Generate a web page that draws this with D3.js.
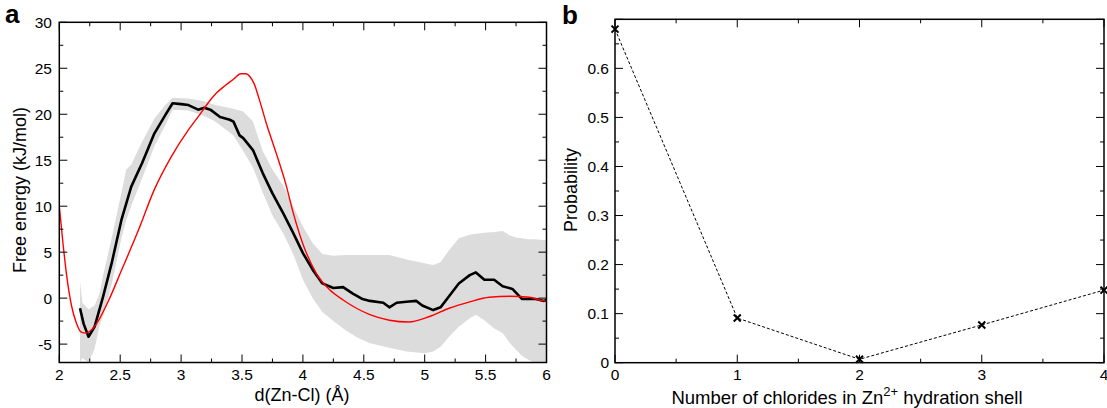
<!DOCTYPE html>
<html>
<head>
<meta charset="utf-8">
<script src="https://cdn.jsdelivr.net/npm/d3@7"></script>
<style>
  body { margin: 0; background: #fff; }
  svg { display: block; font-family: "Liberation Sans", Arial, sans-serif; }
</style>
</head>
<body>
<div id="chart"></div>
<script>
// ---- panel a: free energy profile ----
var redX = [2.0, 2.03, 2.06, 2.10, 2.14, 2.18, 2.22, 2.26, 2.30, 2.40, 2.51, 2.65, 2.78, 2.92, 3.06, 3.15, 3.22, 3.29, 3.36, 3.43, 3.49, 3.53, 3.57, 3.60, 3.64, 3.70, 3.78, 3.86, 3.92, 4.0, 4.11, 4.22, 4.33, 4.44, 4.55, 4.71, 4.87, 5.04, 5.20, 5.37, 5.53, 5.70, 5.86, 5.98, 6.0];
var redY = [10, 6, 2.5, -0.8, -2.7, -3.7, -3.8, -3.5, -2.9, -0.4, 3.0, 7.4, 11.8, 15.4, 18.3, 19.9, 21.2, 22.3, 23.1, 23.8, 24.4, 24.4, 24.0, 23.3, 21.7, 19.0, 15.8, 12.4, 9.3, 5.9, 2.7, 0.9, -0.2, -1.1, -1.8, -2.4, -2.6, -2.0, -1.1, -0.4, 0.1, 0.2, 0.1, -0.3, -0.3];

var meanX = [2.17, 2.20, 2.24, 2.29, 2.36, 2.43, 2.51, 2.59, 2.68, 2.78, 2.87, 2.93, 3.00, 3.06, 3.14, 3.19, 3.24, 3.32, 3.40, 3.43, 3.48, 3.51, 3.59, 3.67, 3.75, 3.84, 3.92, 4.0, 4.08, 4.16, 4.25, 4.33, 4.41, 4.49, 4.55, 4.66, 4.71, 4.77, 4.85, 4.93, 4.98, 5.07, 5.13, 5.20, 5.28, 5.37, 5.42, 5.49, 5.57, 5.64, 5.72, 5.80, 5.91, 5.98, 6.0];
var meanY = [-1.1, -2.8, -4.2, -3.1, 0.2, 3.8, 8.5, 12.1, 14.7, 17.9, 19.9, 21.2, 21.1, 21.0, 20.5, 20.7, 20.5, 19.7, 19.4, 19.2, 17.7, 17.4, 16.1, 13.6, 11.4, 9.2, 7.1, 4.9, 3.1, 1.6, 1.1, 1.2, 0.5, -0.1, -0.3, -0.5, -1.0, -0.5, -0.4, -0.3, -0.8, -1.3, -1.0, 0.2, 1.6, 2.5, 2.8, 2.0, 2.0, 1.3, 1.0, -0.1, -0.1, -0.3, -0.2];

var bandX  = [2.17, 2.19, 2.24, 2.29, 2.33, 2.36, 2.43, 2.51, 2.55, 2.59, 2.68, 2.78, 2.87, 2.93, 3.06, 3.19, 3.28, 3.43, 3.51, 3.59, 3.67, 3.75, 3.84, 3.92, 4.00, 4.08, 4.16, 4.25, 4.35, 4.45, 4.55, 4.71, 4.85, 5.00, 5.07, 5.13, 5.20, 5.28, 5.37, 5.42, 5.49, 5.57, 5.64, 5.70, 5.75, 5.80, 5.85, 5.90, 6.00];
var bandHi = [1.8, -0.5, -1.2, -0.8, 0.5, 2.5, 6.5, 11.5, 14.0, 14.5, 17.0, 19.5, 21.0, 21.8, 21.7, 21.4, 21.0, 20.6, 20.3, 19.2, 16.0, 14.0, 12.2, 10.0, 7.8, 6.0, 4.8, 4.6, 4.7, 4.7, 4.7, 4.7, 4.2, 3.8, 3.6, 3.9, 5.2, 6.5, 6.9, 7.0, 7.1, 7.2, 7.3, 6.8, 6.6, 6.5, 6.4, 6.4, 6.3];
var bandLo = [-7, -6.5, -7, -5.5, -3.0, -2.0, 1.5, 6.5, 8.5, 10.0, 13.0, 16.5, 18.8, 20.5, 20.4, 19.8, 19.2, 17.7, 16.0, 14.2, 11.5, 9.0, 7.0, 4.8, 2.0, 0.0, -1.5, -2.5, -3.5, -4.3, -4.9, -5.4, -5.8, -6.0, -5.8, -5.3, -4.2, -3.1, -2.2, -1.8, -2.4, -3.3, -3.8, -4.9, -5.6, -6.3, -6.7, -7, -7];

// ---- panel b: chloride count probability ----
var chlorides = [0, 1, 2, 3, 4];
var probability = [0.68, 0.091, 0.007, 0.077, 0.148];

var W = 1107, H = 408;
var svg = d3.select("#chart").append("svg").attr("width", W).attr("height", H);

// draw inward ticks on all four sides of a frame
function frameTicks(g, x, y, xMajor, xMinor, yMajor, yMinor) {
    var x0 = x.range()[0], x1 = x.range()[1];
    var y0 = y.range()[0], y1 = y.range()[1];
    function seg(xa, ya, xb, yb) {
        g.append("line").attr("x1", xa).attr("y1", ya).attr("x2", xb).attr("y2", yb)
            .attr("stroke", "#000").attr("stroke-width", 1);
    }
    xMajor.forEach(function(v) { seg(x(v), y0, x(v), y0 - 8); seg(x(v), y1, x(v), y1 + 8); });
    xMinor.forEach(function(v) { seg(x(v), y0, x(v), y0 - 4); seg(x(v), y1, x(v), y1 + 4); });
    yMajor.forEach(function(v) { seg(x0, y(v), x0 + 8, y(v)); seg(x1, y(v), x1 - 8, y(v)); });
    yMinor.forEach(function(v) { seg(x0, y(v), x0 + 4, y(v)); seg(x1, y(v), x1 - 4, y(v)); });
    g.append("rect").attr("x", x0).attr("y", y1).attr("width", x1 - x0).attr("height", y0 - y1)
        .attr("fill", "none").attr("stroke", "#000").attr("stroke-width", 1.5);
}

// ---------- panel a ----------
var xa = d3.scaleLinear().domain([2, 6]).range([59.3, 546.5]);
var ya = d3.scaleLinear().domain([-7, 30]).range([362.5, 22.3]);

svg.append("clipPath").attr("id", "clipA").append("rect")
    .attr("x", xa.range()[0]).attr("y", ya.range()[1])
    .attr("width", xa.range()[1] - xa.range()[0]).attr("height", ya.range()[0] - ya.range()[1]);

var gA = svg.append("g");
var plotA = gA.append("g").attr("clip-path", "url(#clipA)");

var band = bandX.map(function(v, i) { return { x: v, hi: bandHi[i], lo: bandLo[i] }; });
plotA.append("path").datum(band)
    .attr("fill", "#dcdcdc")
    .attr("d", d3.area().x(function(d) { return xa(d.x); })
        .y0(function(d) { return ya(d.lo); }).y1(function(d) { return ya(d.hi); }));

var meanPts = meanX.map(function(v, i) { return [v, meanY[i]]; });
plotA.append("path").datum(meanPts)
    .attr("fill", "none").attr("stroke", "#000").attr("stroke-width", 2.6)
    .attr("stroke-linejoin", "round")
    .attr("d", d3.line().x(function(d) { return xa(d[0]); }).y(function(d) { return ya(d[1]); }));

var redPts = redX.map(function(v, i) { return [v, redY[i]]; });
plotA.append("path").datum(redPts)
    .attr("fill", "none").attr("stroke", "#ff0000").attr("stroke-width", 1.4)
    .attr("d", d3.line().curve(d3.curveMonotoneX)
        .x(function(d) { return xa(d[0]); }).y(function(d) { return ya(d[1]); }));

frameTicks(gA, xa, ya, d3.range(2, 6.01, 0.5), d3.range(2.25, 6, 0.5),
    d3.range(-5, 30.01, 5), d3.range(-2.5, 30, 5));

gA.selectAll("text.xt").data(d3.range(2, 6.01, 0.5)).enter().append("text")
    .attr("x", function(d) { return xa(d); }).attr("y", 380)
    .attr("text-anchor", "middle").attr("font-size", 15.5)
    .text(function(d) { return d3.format("~g")(d); });
gA.selectAll("text.yt").data(d3.range(-5, 30.01, 5)).enter().append("text")
    .attr("x", 52).attr("y", function(d) { return ya(d); }).attr("dy", "0.35em")
    .attr("text-anchor", "end").attr("font-size", 15.5)
    .text(function(d) { return d; });

gA.append("text").attr("x", 302).attr("y", 401).attr("text-anchor", "middle")
    .attr("font-size", 18).text("d(Zn-Cl) (Å)");
gA.append("text").attr("transform", "translate(26,190) rotate(-90)")
    .attr("text-anchor", "middle").attr("font-size", 18).text("Free energy (kJ/mol)");
gA.append("text").attr("x", 5).attr("y", 23).attr("font-size", 26)
    .attr("font-weight", "bold").text("a");

// ---------- panel b ----------
var xb = d3.scaleLinear().domain([0, 4]).range([615, 1104]);
var yb = d3.scaleLinear().domain([0, 0.7]).range([362.7, 19.3]);

var gB = svg.append("g");
frameTicks(gB, xb, yb, d3.range(0, 4.01, 1), d3.range(0.5, 4, 1),
    d3.range(0, 0.701, 0.1), d3.range(0.05, 0.7, 0.1));

var probPts = chlorides.map(function(v, i) { return [v, probability[i]]; });
gB.append("path").datum(probPts)
    .attr("fill", "none").attr("stroke", "#000").attr("stroke-width", 1)
    .attr("stroke-dasharray", "3,2")
    .attr("d", d3.line().x(function(d) { return xb(d[0]); }).y(function(d) { return yb(d[1]); }));

gB.selectAll("path.mk").data(probPts).enter().append("path")
    .attr("d", function(d) {
        var cx = xb(d[0]), cy = yb(d[1]), s = 3.5;
        return "M" + (cx - s) + "," + (cy - s) + "L" + (cx + s) + "," + (cy + s) +
               "M" + (cx - s) + "," + (cy + s) + "L" + (cx + s) + "," + (cy - s);
    })
    .attr("stroke", "#000").attr("stroke-width", 2);

gB.selectAll("text.xt").data(d3.range(0, 4.01, 1)).enter().append("text")
    .attr("x", function(d) { return xb(d); }).attr("y", 380)
    .attr("text-anchor", "middle").attr("font-size", 15.5)
    .text(function(d) { return d; });
gB.selectAll("text.yt").data(d3.range(0, 0.601, 0.1)).enter().append("text")
    .attr("x", 609).attr("y", function(d) { return yb(d); }).attr("dy", "0.35em")
    .attr("text-anchor", "end").attr("font-size", 15.5)
    .text(function(d) { return d3.format("~g")(+d.toFixed(1)); });

var xl = gB.append("text").attr("x", 847).attr("y", 404).attr("text-anchor", "middle")
    .attr("font-size", 18.5);
xl.append("tspan").text("Number of chlorides in Zn");
xl.append("tspan").attr("dy", -8).attr("font-size", 13).text("2+");
xl.append("tspan").attr("dy", 8).text(" hydration shell");

gB.append("text").attr("transform", "translate(577,190) rotate(-90)")
    .attr("text-anchor", "middle").attr("font-size", 18).text("Probability");
gB.append("text").attr("x", 562).attr("y", 24).attr("font-size", 26)
    .attr("font-weight", "bold").text("b");
</script>
</body>
</html>
